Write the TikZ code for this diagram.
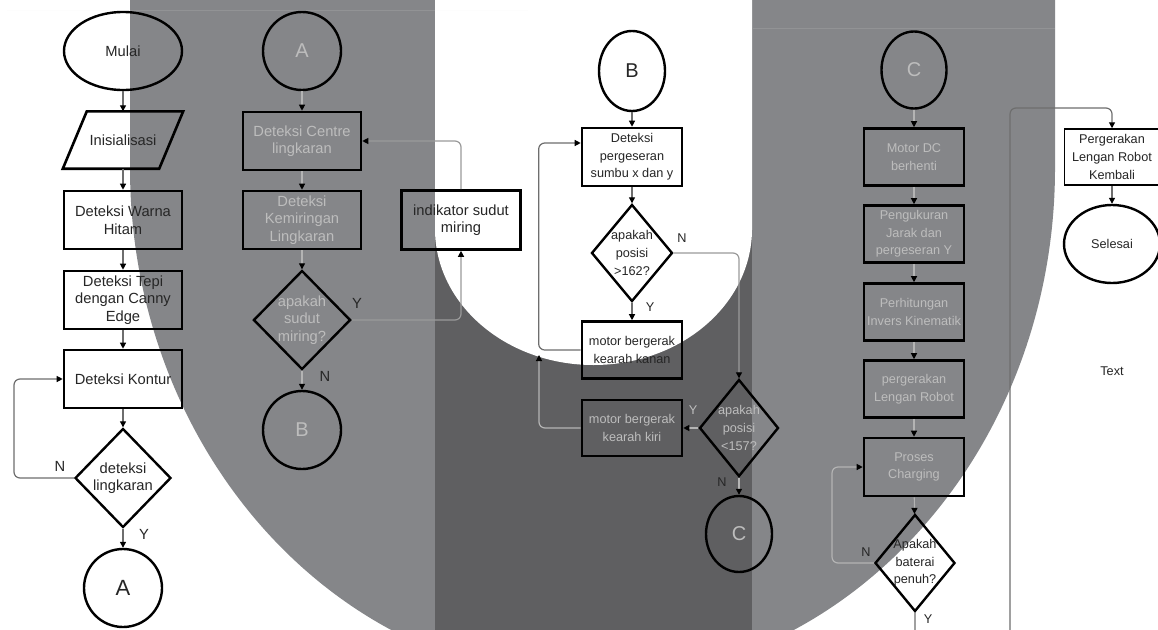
\documentclass[tikz,border=0pt]{standalone}
\usepackage{fontspec}
\setmainfont{Liberation Sans}
\usetikzlibrary{shapes.geometric,arrows.meta}

\definecolor{bandgray}{HTML}{858689}
\definecolor{deepgray}{HTML}{5F5F61}
\definecolor{inkdark}{HTML}{262626}
\definecolor{inklight}{HTML}{BDBDBD}
\definecolor{wiredark}{HTML}{6E6E6E}
\definecolor{wirelight}{HTML}{B4B4B4}
\definecolor{wiremid}{HTML}{9A9A9A}

\newcommand\fbig{\fontsize{14.7}{17.6}\selectfont}
\newcommand\fsml{\fontsize{12.7}{17.6}\selectfont}
\newcommand\fcon{\fontsize{20}{24}\selectfont}
\newcommand\fconbig{\fontsize{22}{26}\selectfont}

\begin{document}
\begin{tikzpicture}[x=1pt,y=-1pt,
  outline/.style={draw=black, inner sep=0pt, align=center},
  procbox/.style={outline, rectangle, line width=2.6pt},
  boxwide/.style={minimum width=118pt, minimum height=58pt},
  boxnarrow/.style={minimum width=100pt, minimum height=57pt},
  roundcap/.style={outline, ellipse, line width=2.4pt},
  connector/.style={outline, circle, line width=2.4pt, minimum size=78pt},
  decide/.style={outline, diamond, line width=2.4pt},
  slimdecide/.style={decide, inner sep=-4pt},
  onwhite/.style={text=inkdark},
  ongray/.style={text=inklight},
  arrowed/.style={-{Triangle[length=6pt,width=6pt,color=black]}},
  wireW/.style={arrowed, draw=wiredark, line width=1.2pt, rounded corners=6pt},
  wireG/.style={arrowed, draw=wirelight, line width=1.2pt, rounded corners=6pt},
  wireM/.style={arrowed, draw=wiremid, line width=1.2pt, rounded corners=6pt},
  yn/.style={inner sep=0pt, text=inkdark}
]

% ---------- canvas and the grey U-shaped backdrop ----------
\useasboundingbox (0,0) rectangle (1158,629);
\clip (0,0) rectangle (1158,629);
\fill[white] (0,0) rectangle (1158,629);
\fill[bandgray] (130,0) -- (130,168)
  arc[start angle=180, end angle=0, x radius=462.5, y radius=513] -- (1055,0) -- cycle;
\begin{scope}
  \clip (130,0) -- (130,168)
    arc[start angle=180, end angle=0, x radius=462.5, y radius=513] -- (1055,0) -- cycle;
  \fill[deepgray] (435,0) rectangle (752,700);
\end{scope}
\fill[white] (435,0) -- (435,229)
  arc[start angle=180, end angle=0, x radius=158.5, y radius=136] -- (752,0) -- cycle;
\draw[gray!10, opacity=0.12, line width=0.8pt] (7,10) -- (528,10);
\draw[gray!10, opacity=0.12, line width=0.8pt] (753,28) -- (1055,28);

% ---------- column 1: start of the process ----------
\node[roundcap, onwhite, minimum width=118pt, minimum height=78pt, font=\fbig] (start) at (123,51) {Mulai};
\node[outline, draw=none, rectangle, minimum width=96pt, minimum height=57pt, onwhite, font=\fbig] (init) at (123,140) {Inisialisasi};
\draw[line width=2.6pt, line join=miter]
  ([xshift=-12pt]init.south west) -- ([xshift=12pt]init.north west) --
  ([xshift=12pt]init.north east) -- ([xshift=-12pt]init.south east) -- cycle;
\node[procbox, boxwide, onwhite, font=\fbig] (warna) at (123,220) {Deteksi Warna\\Hitam};
\node[procbox, boxwide, onwhite, font=\fbig] (tepi) at (123,300) {Deteksi Tepi\\dengan Canny\\Edge};
\node[procbox, boxwide, onwhite, font=\fbig] (kontur) at (123,379) {Deteksi Kontur};
\node[decide, minimum width=96pt, minimum height=99pt, onwhite, font=\fbig] (dlk) at (123,478) {deteksi\\lingkaran};
\node[connector, onwhite, font=\fconbig] (a1) at (123,588) {A};

% ---------- column 2: tilt of the circle ----------
\node[connector, ongray, font=\fcon] (a2) at (302,51) {A};
\node[procbox, boxwide, ongray, font=\fbig] (centre) at (302,141) {Deteksi Centre\\lingkaran};
\node[procbox, boxwide, ongray, font=\fbig] (miring) at (302,220) {Deteksi\\Kemiringan\\Lingkaran};
\node[decide, minimum width=96pt, minimum height=99pt, ongray, font=\fbig] (dsm) at (302,320) {apakah\\sudut\\miring?};
\node[connector, ongray, font=\fcon] (b2) at (302,430) {B};
\node[procbox, minimum width=119pt, minimum height=59pt, onwhite, font=\fbig] (indik) at (461,220) {indikator sudut\\miring};

% ---------- column 3: position of the base ----------
\node[roundcap, minimum width=66pt, minimum height=80pt, onwhite, font=\fcon] (b3) at (632,71) {B};
\node[procbox, minimum width=100pt, minimum height=58pt, onwhite, font=\fsml] (geser) at (632,157) {Deteksi\\pergeseran\\sumbu x dan y};
\node[slimdecide, minimum width=81pt, minimum height=97pt, onwhite, font=\fsml] (d162) at (632,253) {apakah\\posisi\\>162?};
\node[procbox, minimum width=100pt, minimum height=57pt, onwhite, font=\fsml] (kanan) at (632,350) {motor bergerak\\kearah kanan};
\node[procbox, minimum width=100pt, minimum height=56pt, ongray, font=\fsml] (kiri) at (632,428) {motor bergerak\\kearah kiri};
\node[slimdecide, minimum width=79pt, minimum height=97pt, ongray, font=\fsml] (d157) at (739,428) {apakah\\posisi\\<157?};
\node[roundcap, minimum width=66pt, minimum height=76pt, ongray, font=\fcon] (c3) at (739,534) {C};

% ---------- column 4: arm movement and charging ----------
\node[roundcap, minimum width=65pt, minimum height=77pt, ongray, font=\fcon] (c4) at (914,70) {C};
\node[procbox, boxnarrow, ongray, font=\fsml] (motor) at (914,157) {Motor DC\\berhenti};
\node[procbox, boxnarrow, ongray, font=\fsml] (ukur) at (914,234) {Pengukuran\\Jarak dan\\pergeseran Y};
\node[procbox, boxnarrow, ongray, font=\fsml] (hitung) at (914,312) {Perhitungan\\Invers Kinematik};
\node[procbox, boxnarrow, ongray, font=\fsml] (gerak) at (914,389) {pergerakan\\Lengan Robot};
\node[procbox, minimum width=100pt, minimum height=58pt, ongray, font=\fsml] (charge) at (914,467) {Proses\\Charging};
\node[slimdecide, minimum width=80pt, minimum height=97pt, onwhite, font=\fsml] (bat) at (915,563) {Apakah\\baterai\\penuh?};

% ---------- column 5: end ----------
\node[outline, rectangle, line width=1.5pt, minimum width=95pt, minimum height=56pt, onwhite, font=\fsml] (back) at (1112,157) {Pergerakan\\Lengan Robot\\Kembali};
\node[roundcap, minimum width=96pt, minimum height=78pt, onwhite, font=\fsml] (finish) at (1112,244) {Selesai};
\node[yn, font=\fsml] (note) at (1112,371) {Text};

% ---------- branch labels ----------
\node[yn, font=\fbig] (n1) at (60,466) {N};
\node[yn, font=\fbig] (y1) at (144,534) {Y};
\node[yn, font=\fbig] (y2) at (357,303) {Y};
\node[yn, font=\fbig] (n2) at (325,376) {N};
\node[yn, font=\fsml] (n3) at (682,238) {N};
\node[yn, font=\fsml] (y3) at (650,307) {Y};
\node[yn, font=\fsml, text=inklight] (y4) at (693,410) {Y};
\node[yn, font=\fsml] (n4) at (722,482) {N};
\node[yn, font=\fsml] (n5) at (866,552) {N};
\node[yn, font=\fsml] (y5) at (928,619) {Y};

% ---------- connectors ----------
\coordinate (loop1) at (14,478);
\coordinate (merge) at (539,355);
\coordinate (loop4) at (832,563);
\coordinate (exitL) at (915,660);
\coordinate (exitR) at (1010,660);
\coordinate (topR) at (1010,108);

\draw[wireW] (start) -- (init);
\draw[wireW] (init) -- (warna);
\draw[wireW] (warna) -- (tepi);
\draw[wireW] (tepi) -- (kontur);
\draw[wireW] (kontur) -- (dlk);
\draw[wireW] (dlk) -- (a1);
\draw[wireW] (dlk.west) -- (loop1) |- (kontur.west);

\draw[wireG] (a2) -- (centre);
\draw[wireG] (centre) -- (miring);
\draw[wireG] (miring) -- (dsm);
\draw[wireG] (dsm) -- (b2);
\draw[wireM] (dsm.east) -| (indik.south);
\draw[wireM] (indik.north) |- (centre.east);

\draw[wireW] (b3) -- (geser);
\draw[wireW] (geser) -- (d162);
\draw[wireW] (d162) -- (kanan);
\draw[wireM] (d162.east) -| (d157.north);
\draw[wireG] (d157.west) -- (kiri.east);
\draw[wireG] (d157) -- (c3);
\draw[wireW] (kanan.west) -- ++(-42,0) |- ([yshift=14pt]geser.west);
\draw[wireG] (kiri.west) -| (merge);

\draw[wireG] (c4) -- (motor);
\draw[wireG] (motor) -- (ukur);
\draw[wireG] (ukur) -- (hitung);
\draw[wireG] (hitung) -- (gerak);
\draw[wireG] (gerak) -- (charge);
\draw[wireG] (charge) -- (bat);
\draw[wireG] (bat.west) -- (loop4) |- (charge.west);
\draw[wireW] (bat.south) -- (exitL) -- (exitR) -- (topR) -| (back.north);
\draw[wireW] (back) -- (finish);

\end{tikzpicture}
\end{document}
